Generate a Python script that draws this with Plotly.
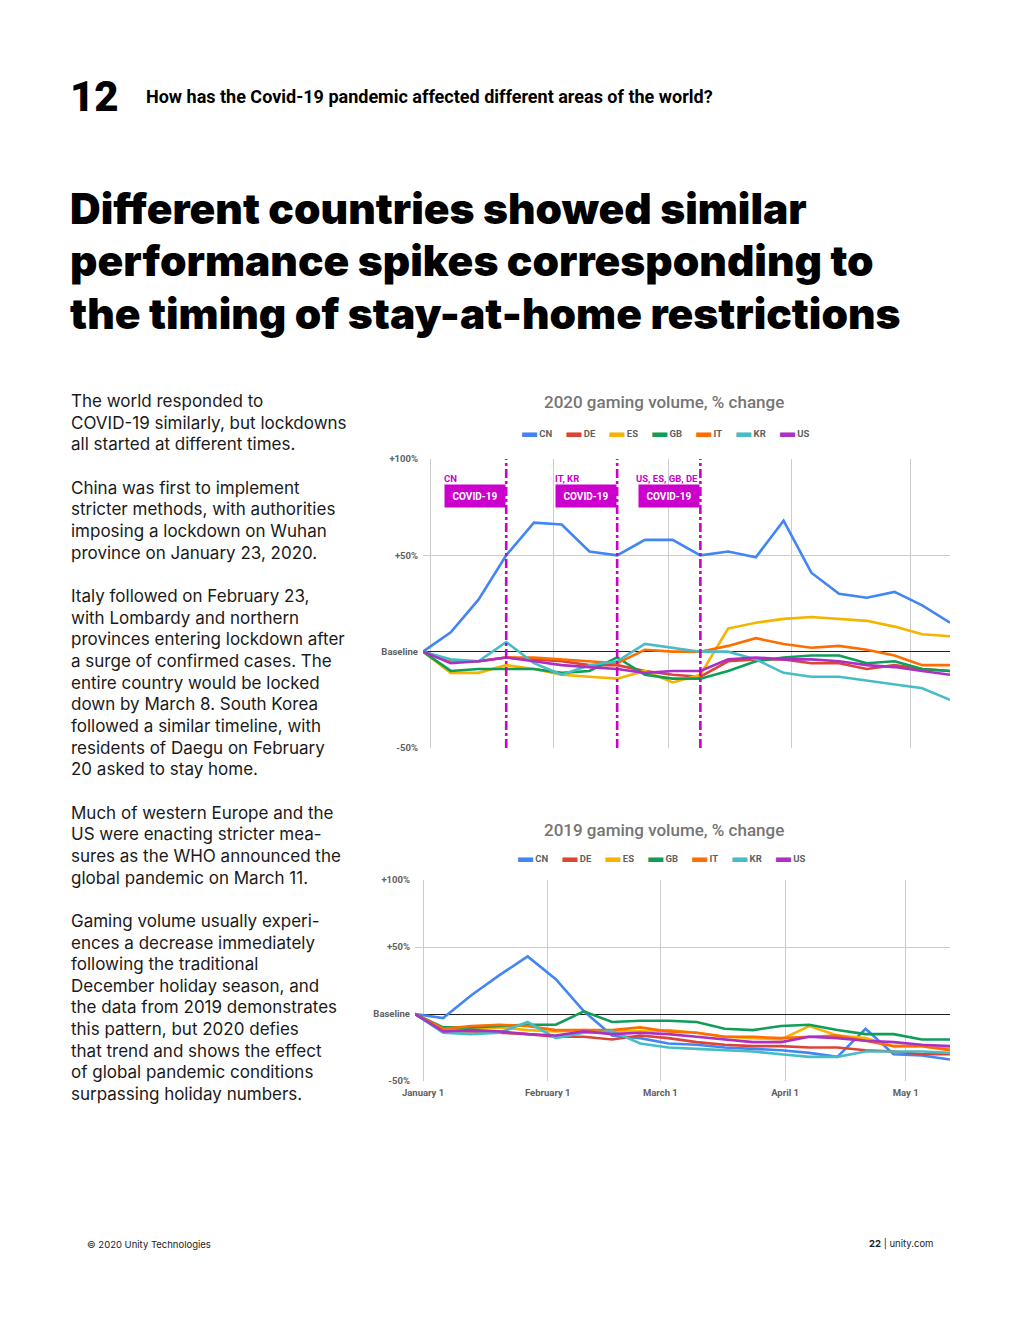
import plotly.graph_objects as go
import pandas as pd

# ---------------- data ----------------
countries = ["CN", "DE", "ES", "GB", "IT", "KR", "US"]
colors = ["#4285F4", "#DB4437", "#F4B400", "#0F9D58", "#FF6D00", "#46BDC6", "#AB30C4"]

dates_2020 = pd.date_range("2019-12-30", periods=20, freq="7D")
dates_2019 = pd.date_range("2018-12-30", periods=20, freq="7D")

cn_2020 = [0, 10, 27, 50, 67, 66, 52, 50, 58, 58, 50, 52, 49, 68, 41, 30, 28, 31, 24, 15]
de_2020 = [0, -5, -5, -3, -4, -5, -7, -7, -10, -12, -13, -5, -4, -4, -6, -6, -9, -7, -9, -10]
es_2020 = [0, -11, -11, -7, -9, -12, -13, -14, -10, -16, -12, 12, 15, 17, 18, 17, 16, 13, 9, 8]
gb_2020 = [0, -10, -9, -9, -9, -11, -10, -3, -12, -14, -14, -10, -5, -3, -2, -2, -6, -5, -9, -10]
it_2020 = [0, -5, -5, -3, -3, -4, -5, -6, 1, 0, 0, 3, 7, 4, 2, 3, 1, -2, -7, -7]
kr_2020 = [0, -4, -5, 5, -6, -12, -7, -5, 4, 2, 0, 0, -4, -11, -13, -13, -15, -17, -19, -25]
us_2020 = [0, -6, -5, -3, -5, -7, -8, -9, -11, -10, -10, -4, -3, -4, -4, -5, -7, -8, -10, -12]

cn_2019 = [0, -3, 14, 29, 43, 26, 2, -16, -18, -22, -23, -25, -26, -27, -29, -32, -11, -30, -31, -34]
de_2019 = [0, -13, -13, -14, -15, -17, -17, -19, -16, -18, -21, -23, -24, -24, -25, -25, -27, -28, -30, -30]
es_2019 = [0, -12, -11, -10, -12, -13, -12, -13, -13, -12, -14, -17, -18, -19, -9, -16, -18, -24, -24, -26]
gb_2019 = [0, -10, -10, -9, -8, -8, 2, -6, -5, -5, -6, -11, -12, -9, -8, -12, -15, -15, -19, -19]
it_2019 = [0, -11, -9, -8, -9, -12, -12, -12, -10, -13, -14, -17, -17, -18, -17, -16, -20, -24, -24, -27]
kr_2019 = [0, -14, -15, -14, -6, -18, -14, -13, -22, -25, -26, -27, -28, -30, -32, -32, -28, -28, -28, -29]
us_2019 = [0, -13, -12, -13, -15, -16, -13, -15, -14, -15, -17, -19, -21, -21, -17, -18, -20, -21, -23, -24]

series_2020 = [cn_2020, de_2020, es_2020, gb_2020, it_2020, kr_2020, us_2020]
series_2019 = [cn_2019, de_2019, es_2019, gb_2019, it_2019, kr_2019, us_2019]

y_tickvals = [-50, 0, 50, 100]
y_ticktext = ["-50%", "Baseline", "+50%", "+100%"]

month_ticks_2019 = ["2019-01-01", "2019-02-01", "2019-03-01", "2019-04-01", "2019-05-01"]
month_labels_2019 = ["January 1", "February 1", "March 1", "April 1", "May 1"]
month_ticks_2020 = ["2020-01-01", "2020-02-01", "2020-03-01", "2020-04-01", "2020-05-01"]

event_dates = ["2020-01-20", "2020-02-17", "2020-03-09"]
event_groups = ["CN", "IT, KR", "US, ES, GB, DE"]
event_label = "COVID-19"

title_2020 = "2020 gaming volume, % change"
title_2019 = "2019 gaming volume, % change"

body_lines = [
    "The world responded to",
    "COVID-19 similarly, but lockdowns",
    "all started at different times.",
    "",
    "China was first to implement",
    "stricter methods, with authorities",
    "imposing a lockdown on Wuhan",
    "province on January 23, 2020.",
    "",
    "Italy followed on February 23,",
    "with Lombardy and northern",
    "provinces entering lockdown after",
    "a surge of confirmed cases. The",
    "entire country would be locked",
    "down by March 8. South Korea",
    "followed a similar timeline, with",
    "residents of Daegu on February",
    "20 asked to stay home.",
    "",
    "Much of western Europe and the",
    "US were enacting stricter mea-",
    "sures as the WHO announced the",
    "global pandemic on March 11.",
    "",
    "Gaming volume usually experi-",
    "ences a decrease immediately",
    "following the traditional",
    "December holiday season, and",
    "the data from 2019 demonstrates",
    "this pattern, but 2020 defies",
    "that trend and shows the effect",
    "of global pandemic conditions",
    "surpassing holiday numbers.",
]
title_lines = [
    "Different countries showed similar",
    "performance spikes corresponding to",
    "the timing of stay-at-home restrictions",
]

# ---------------- layout helpers ----------------
# the page body adds an 8px margin; the figure is sized so it fits the window
OFF = 8
W, H = 1020 - 2 * OFF, 1320 - 2 * OFF
def px(x):
    return (x - OFF) / W
def py(y):
    return 1 - (y - OFF) / H

fig = go.Figure()

for name, col, vals in zip(countries, colors, series_2020):
    fig.add_trace(go.Scatter(x=dates_2020, y=vals, name=name, mode="lines",
                             line=dict(color=col, width=2.6), xaxis="x", yaxis="y",
                             showlegend=False))
for name, col, vals in zip(countries, colors, series_2019):
    fig.add_trace(go.Scatter(x=dates_2019, y=vals, name=name, mode="lines",
                             line=dict(color=col, width=2.6), xaxis="x2", yaxis="y2",
                             showlegend=False))

tickfont = dict(family="Roboto", size=9.5, color="#616161")
grid = "#cccccc"

fig.update_layout(
    template="none",
    width=W, height=H, autosize=False,
    margin=dict(l=0, r=0, t=0, b=0, pad=0),
    paper_bgcolor="white", plot_bgcolor="white", showlegend=False,
    xaxis=dict(domain=[px(423), px(950)], range=["2019-12-30", "2020-05-11"],
               tickvals=month_ticks_2020, showticklabels=False, showgrid=True,
               gridcolor=grid, gridwidth=1, zeroline=False, showline=False,
               automargin=False, ticks=""),
    yaxis=dict(domain=[py(748), py(459)], range=[-50, 100], tickvals=y_tickvals,
               ticktext=["<b>%s</b>" % t for t in y_ticktext], tickfont=tickfont,
               showgrid=True, gridcolor=grid, gridwidth=1, zeroline=True,
               zerolinecolor="#222222", zerolinewidth=1, ticks="",
               ticklabelstandoff=4, automargin=False, showline=False),
    xaxis2=dict(domain=[px(415), px(950)], range=["2018-12-30", "2019-05-12"],
                tickvals=month_ticks_2019,
                ticktext=["<b>%s</b>" % t for t in month_labels_2019],
                tickfont=tickfont, showgrid=True, gridcolor=grid, gridwidth=1,
                zeroline=False, anchor="y2", ticks="", automargin=False,
                ticklabelstandoff=4, showline=False),
    yaxis2=dict(domain=[py(1081), py(880)], range=[-50, 100], tickvals=y_tickvals,
                ticktext=["<b>%s</b>" % t for t in y_ticktext], tickfont=tickfont,
                showgrid=True, gridcolor=grid, gridwidth=1, zeroline=True,
                zerolinecolor="#222222", zerolinewidth=1, ticks="", anchor="x2",
                ticklabelstandoff=4, automargin=False, showline=False),
)

# event lines and labels
magenta = "#CC00CC"
for d, grp in zip(event_dates, event_groups):
    fig.add_shape(type="line", xref="x", yref="y domain", x0=d, x1=d, y0=0, y1=1,
                  line=dict(color=magenta, width=2.6, dash="dashdot"), layer="above")
    fig.add_annotation(xref="x", yref="paper", x=d, y=py(496), xanchor="right",
                       yanchor="middle", text="<b>%s</b>" % event_label, showarrow=False,
                       font=dict(family="Roboto", size=10, color="white"),
                       bgcolor=magenta, width=56, height=18, borderpad=2)
    long_label = len(grp) > 8
    fig.add_annotation(xref="x", yref="paper", x=d, y=py(478), xanchor="right",
                       yanchor="middle", text="<b>%s</b>" % grp, showarrow=False,
                       font=dict(family="Roboto", size=9.5, color=magenta),
                       align="left", width=None if long_label else 60)

# chart titles
for t, yy in [(title_2020, 402), (title_2019, 830)]:
    fig.add_annotation(xref="paper", yref="paper", x=px(664), y=py(yy), text=t,
                       showarrow=False, xanchor="center", yanchor="middle",
                       font=dict(family="Roboto", size=17, color="#757575", weight=500))

# manual legends
legend_html = "&nbsp;&nbsp;&nbsp;&nbsp;&nbsp;&nbsp;".join(
    "<span style='color:%s;font-size:15px'>▬</span>&nbsp;<b>%s</b>" % (c, n)
    for n, c in zip(countries, colors))
for yy, xc in [(432, 665), (857, 661)]:
    fig.add_annotation(xref="paper", yref="paper", x=px(xc), y=py(yy), text=legend_html,
                       showarrow=False, xanchor="center", yanchor="middle",
                       font=dict(family="Roboto", size=9.5, color="#616161"))

# header
fig.add_annotation(xref="paper", yref="paper", x=px(68), y=py(96), text="12",
                   showarrow=False, xanchor="left", yanchor="middle",
                   font=dict(family="Roboto", size=42, color="#000000", weight=900))
fig.add_annotation(xref="paper", yref="paper", x=px(144), y=py(96),
                   text="How has the Covid-19 pandemic affected different areas of the world?",
                   showarrow=False, xanchor="left", yanchor="middle",
                   font=dict(family="Roboto", size=18, color="#000000", weight=700))

# title
for i, line in enumerate(title_lines):
    fig.add_annotation(xref="paper", yref="paper", x=px(68), y=py(209 + 52 * i),
                       text=line, showarrow=False, xanchor="left", yanchor="middle",
                       font=dict(family="Inter", size=42.5, color="#000000", weight=900))

# body text
for i, line in enumerate(body_lines):
    if not line:
        continue
    fig.add_annotation(xref="paper", yref="paper", x=px(69), y=py(401 + 21.66 * i),
                       text=line, showarrow=False, xanchor="left", yanchor="middle",
                       font=dict(family="Inter", size=17, color="#1a1a1a"))

# footer
fig.add_annotation(xref="paper", yref="paper", x=px(85), y=py(1244),
                   text="© 2020 Unity Technologies", showarrow=False, xanchor="left",
                   yanchor="middle", font=dict(family="Inter", size=9.5, color="#222222"))
fig.add_annotation(xref="paper", yref="paper", x=px(935), y=py(1244),
                   text="<b>22</b> | unity.com", showarrow=False, xanchor="right",
                   yanchor="middle", font=dict(family="Inter", size=9.5, color="#222222"))

fig.write_html("out.html")
